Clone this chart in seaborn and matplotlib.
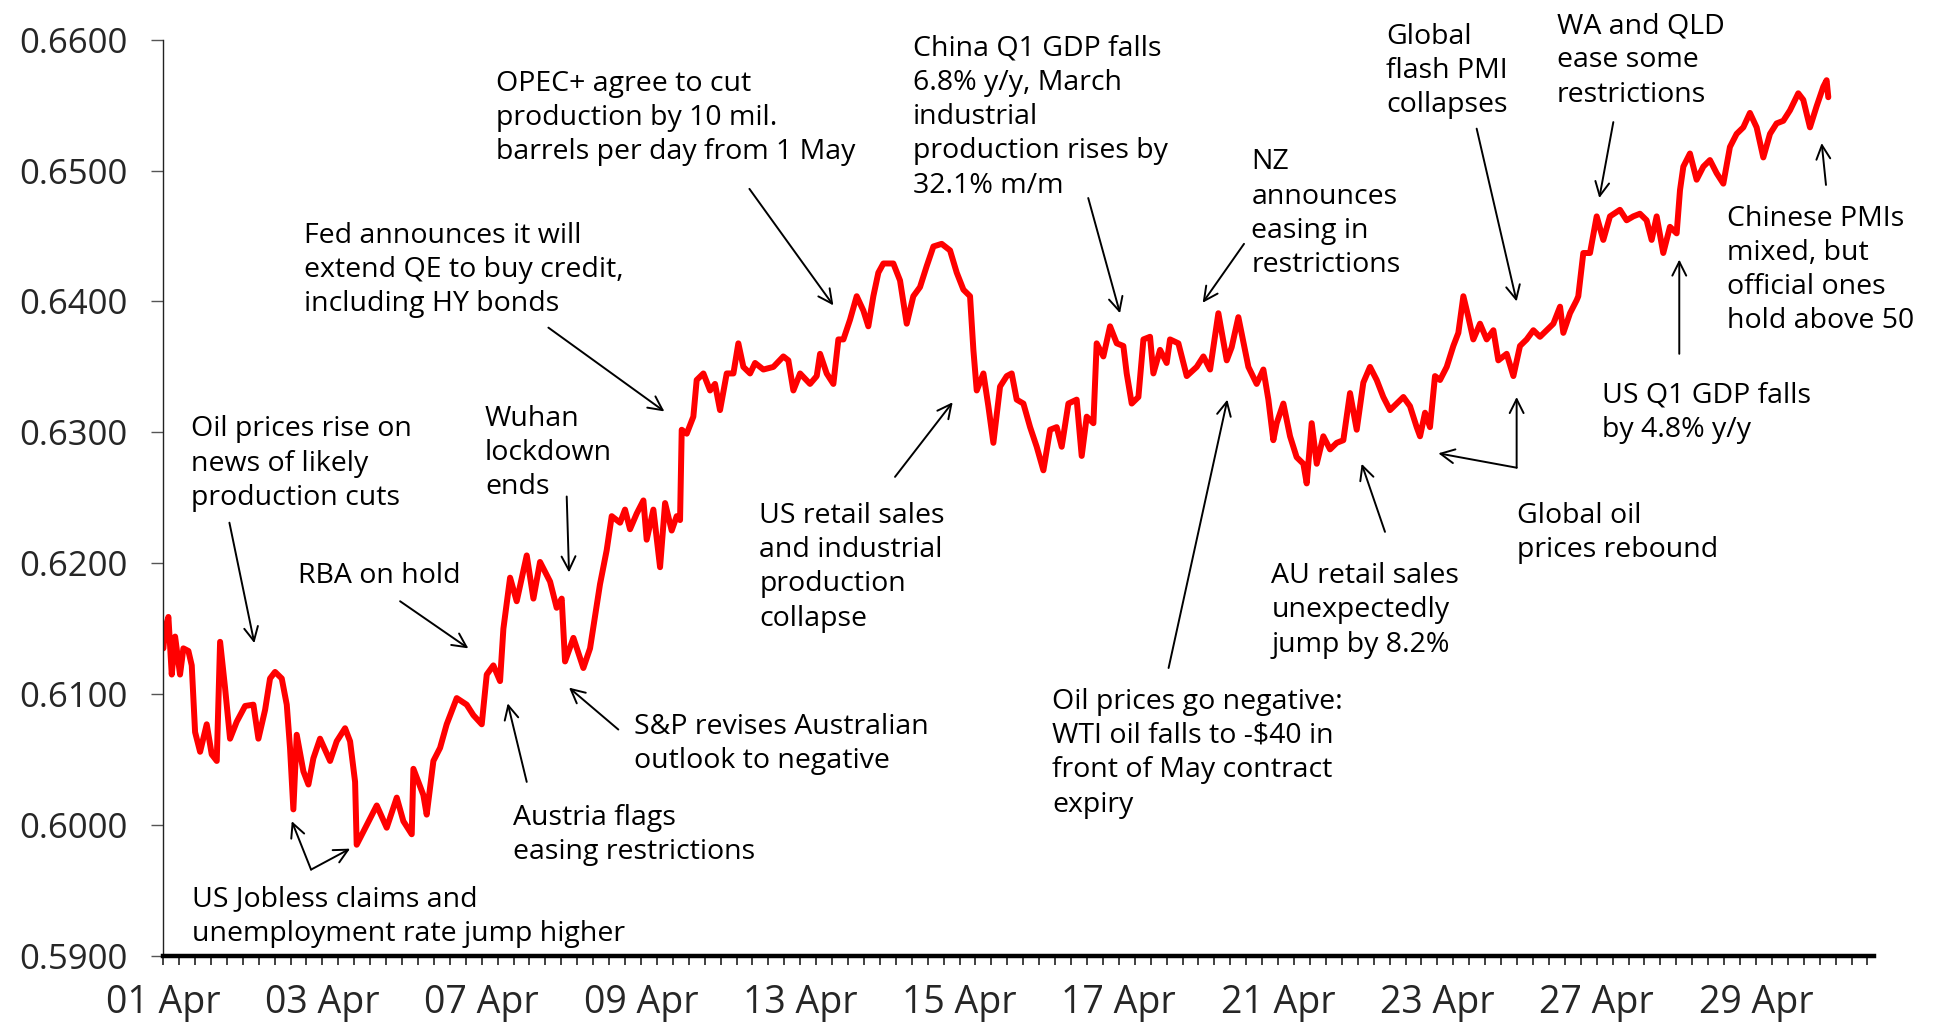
import matplotlib
matplotlib.use('Agg')
import matplotlib.pyplot as plt
import seaborn as sns
from matplotlib.ticker import MultipleLocator, FixedLocator

# AUD/USD, April 2020, x = trading day index (0 = 01 Apr)
day_pos = [
    0.004, 0.025, 0.067, 0.109, 0.151, 0.213, 0.255, 0.318, 0.360, 0.402, 0.465, 0.548, 0.611, 0.674, 0.716,
    0.778, 0.841, 0.925, 1.030, 1.134, 1.197, 1.281, 1.343, 1.406, 1.490, 1.553, 1.594, 1.636, 1.678, 1.762,
    1.825, 1.887, 1.971, 2.097, 2.180, 2.285, 2.348, 2.411, 2.431, 2.557, 2.683, 2.808, 2.934, 3.017, 3.122,
    3.143, 3.268, 3.310, 3.394, 3.478, 3.561, 3.687, 3.812, 3.896, 4.001, 4.064, 4.147, 4.231, 4.273, 4.357,
    4.440, 4.566, 4.650, 4.733, 4.859, 4.942, 5.005, 5.047, 5.152, 5.277, 5.361, 5.486,
    5.570, 5.633, 5.738, 5.800, 5.863, 5.947, 6.031, 6.072, 6.156, 6.240, 6.303, 6.386, 6.449, 6.491, 6.512,
    6.575, 6.658, 6.700, 6.784, 6.868, 6.930, 6.993, 7.077, 7.161, 7.223, 7.286, 7.370, 7.433, 7.537, 7.663,
    7.788, 7.851, 7.914, 7.998, 8.123, 8.207, 8.249, 8.332, 8.416, 8.479, 8.542, 8.625, 8.709, 8.793, 8.855,
    8.918, 8.981, 9.044, 9.169, 9.253, 9.337, 9.420, 9.504, 9.588, 9.672,
    9.776, 9.881, 9.965, 10.049, 10.132, 10.174, 10.216, 10.300, 10.362, 10.425, 10.509, 10.593, 10.655,
    10.718, 10.802, 10.886, 10.969, 11.053, 11.137, 11.220, 11.283, 11.367, 11.471, 11.534, 11.597, 11.681,
    11.722, 11.806, 11.890, 11.974, 12.057, 12.099, 12.162, 12.246, 12.309, 12.392, 12.434, 12.518, 12.601,
    12.643, 12.748, 12.853, 12.978, 13.062, 13.146, 13.250, 13.355, 13.417, 13.501, 13.627, 13.731, 13.815,
    13.878, 13.940,
    13.982, 14.066, 14.150, 14.233, 14.317, 14.359, 14.422, 14.485, 14.568, 14.652, 14.736, 14.819, 14.903,
    14.987, 15.070, 15.154, 15.238, 15.321, 15.405, 15.489, 15.573, 15.656, 15.740, 15.782, 15.845, 15.907,
    15.970, 16.033, 16.117, 16.200, 16.263, 16.326, 16.389, 16.451, 16.535, 16.619, 16.703, 16.765, 16.870,
    16.954, 17.037, 17.121, 17.205, 17.288, 17.372, 17.456, 17.540, 17.581, 17.665, 17.749,
    17.769, 17.832, 17.916, 18.000, 18.083, 18.167, 18.292, 18.376, 18.460, 18.543, 18.627, 18.690, 18.753,
    18.836, 18.920, 19.004, 19.046, 19.088, 19.171, 19.255, 19.339, 19.422, 19.506, 19.590, 19.673, 19.757,
    19.841, 19.924, 20.008, 20.092, 20.176, 20.259, 20.343, 20.427, 20.531, 20.594, 20.678, 20.761, 20.845,
    20.887, 20.908,
]
aud_usd = [
    0.6135, 0.6150, 0.6159, 0.6115, 0.6144, 0.6115, 0.6135, 0.6133, 0.6122, 0.6071, 0.6056, 0.6077, 0.6054, 0.6049, 0.6140,
    0.6105, 0.6066, 0.6079, 0.6091, 0.6092, 0.6066, 0.6088, 0.6112, 0.6117, 0.6112, 0.6092, 0.6059, 0.6012, 0.6069, 0.6041,
    0.6031, 0.6051, 0.6066, 0.6049, 0.6064, 0.6074, 0.6064, 0.6033, 0.5985, 0.6000, 0.6015, 0.5998, 0.6021, 0.6003, 0.5993,
    0.6043, 0.6023, 0.6008, 0.6049, 0.6059, 0.6077, 0.6097, 0.6092, 0.6084, 0.6077, 0.6115, 0.6122, 0.6110, 0.6150, 0.6189,
    0.6171, 0.6206, 0.6173, 0.6201, 0.6186, 0.6166, 0.6173, 0.6125, 0.6143, 0.6120, 0.6135, 0.6184,
    0.6210, 0.6236, 0.6231, 0.6241, 0.6226, 0.6238, 0.6248, 0.6218, 0.6241, 0.6197, 0.6246, 0.6225, 0.6236, 0.6233, 0.6302,
    0.6299, 0.6312, 0.6340, 0.6345, 0.6332, 0.6337, 0.6317, 0.6345, 0.6345, 0.6368, 0.6350, 0.6345, 0.6353, 0.6348, 0.6350,
    0.6358, 0.6355, 0.6332, 0.6345, 0.6337, 0.6343, 0.6360, 0.6345, 0.6337, 0.6371, 0.6371, 0.6386, 0.6404, 0.6393, 0.6381,
    0.6404, 0.6422, 0.6429, 0.6429, 0.6416, 0.6383, 0.6404, 0.6411, 0.6427, 0.6442,
    0.6444, 0.6439, 0.6422, 0.6409, 0.6404, 0.6363, 0.6332, 0.6345, 0.6320, 0.6292, 0.6335, 0.6343, 0.6345,
    0.6325, 0.6322, 0.6304, 0.6289, 0.6271, 0.6302, 0.6304, 0.6289, 0.6322, 0.6325, 0.6282, 0.6312, 0.6307,
    0.6368, 0.6358, 0.6381, 0.6368, 0.6366, 0.6345, 0.6322, 0.6327, 0.6371, 0.6373, 0.6345, 0.6363, 0.6353,
    0.6371, 0.6368, 0.6343, 0.6350, 0.6358, 0.6348, 0.6391, 0.6355, 0.6365, 0.6388, 0.6350, 0.6337, 0.6348,
    0.6325, 0.6294,
    0.6307, 0.6322, 0.6297, 0.6281, 0.6276, 0.6261, 0.6307, 0.6276, 0.6297, 0.6287, 0.6292, 0.6294, 0.6330,
    0.6302, 0.6338, 0.6350, 0.6340, 0.6327, 0.6317, 0.6322, 0.6327, 0.6320, 0.6304, 0.6297, 0.6315, 0.6304,
    0.6343, 0.6340, 0.6350, 0.6366, 0.6376, 0.6404, 0.6388, 0.6371, 0.6383, 0.6371, 0.6378, 0.6355, 0.6360,
    0.6343, 0.6366, 0.6371, 0.6378, 0.6373, 0.6378, 0.6383, 0.6396, 0.6376, 0.6391, 0.6401,
    0.6404, 0.6437, 0.6437, 0.6465, 0.6447, 0.6465, 0.6470, 0.6462, 0.6465, 0.6467, 0.6462, 0.6447, 0.6465,
    0.6437, 0.6457, 0.6452, 0.6485, 0.6503, 0.6513, 0.6493, 0.6503, 0.6508, 0.6498, 0.6490, 0.6518, 0.6528,
    0.6533, 0.6544, 0.6533, 0.6510, 0.6528, 0.6536, 0.6538, 0.6546, 0.6559, 0.6554, 0.6533, 0.6549, 0.6564,
    0.6569, 0.6556,
]

label_days = [0, 2, 4, 6, 8, 10, 12, 14, 16, 18, 20]
label_text = ['01 Apr', '03 Apr', '07 Apr', '09 Apr', '13 Apr', '15 Apr',
              '17 Apr', '21 Apr', '23 Apr', '27 Apr', '29 Apr']
y_ticks = [0.59, 0.60, 0.61, 0.62, 0.63, 0.64, 0.65, 0.66]

# (text, x, y of top of text)
notes = [
    ("Oil prices rise on\nnews of likely\nproduction cuts", 0.354, 0.6313),
    ("RBA on hold", 1.699, 0.6201),
    ("Wuhan\nlockdown\nends", 4.043, 0.6321),
    ("Fed announces it will\nextend QE to buy credit,\nincluding HY bonds", 1.773, 0.6461),
    ("OPEC+ agree to cut\nproduction by 10 mil.\nbarrels per day from 1 May", 4.179, 0.6577),
    ("China Q1 GDP falls\n6.8% y/y, March\nindustrial\nproduction rises by\n32.1% m/m", 9.411, 0.6604),
    ("NZ\nannounces\neasing in\nrestrictions", 13.665, 0.6517),
    ("Global\nflash PMI\ncollapses", 15.357, 0.6613),
    ("WA and QLD\nease some\nrestrictions", 17.5, 0.6621),
    ("Chinese PMIs\nmixed, but\nofficial ones\nhold above 50", 19.640, 0.6474),
    ("US Q1 GDP falls\nby 4.8% y/y", 18.063, 0.6339),
    ("Global oil\nprices rebound", 17.003, 0.6247),
    ("AU retail sales\nunexpectedly\njump by 8.2%", 13.914, 0.6201),
    ("Oil prices go negative:\nWTI oil falls to -$40 in\nfront of May contract\nexpiry", 11.165, 0.6105),
    ("US retail sales\nand industrial\nproduction\ncollapse", 7.487, 0.6247),
    ("S&P revises Australian\noutlook to negative", 5.918, 0.6086),
    ("Austria flags\neasing restrictions", 4.398, 0.6016),
    ("US Jobless claims and\nunemployment rate jump higher", 0.360, 0.5954),
]

# (tail x, tail y, head x, head y)
arrows = [
    (0.833, 0.6231, 1.146, 0.6139),
    (2.976, 0.6171, 3.833, 0.6135),
    (5.068, 0.6251, 5.097, 0.6193),
    (4.838, 0.6380, 6.294, 0.6316),
    (7.362, 0.6486, 8.416, 0.6397),
    (11.616, 0.6479, 12.015, 0.6391),
    (13.572, 0.6444, 13.053, 0.6399),
    (16.493, 0.6532, 16.995, 0.6400),
    (18.209, 0.6537, 18.033, 0.6479),
    (20.879, 0.6489, 20.825, 0.6521),
    (19.037, 0.6360, 19.037, 0.6432),
    (16.995, 0.6273, 16.012, 0.6284),
    (16.995, 0.6273, 16.995, 0.6327),
    (15.342, 0.6224, 15.049, 0.6276),
    (12.625, 0.6120, 13.363, 0.6325),
    (9.190, 0.6266, 9.914, 0.6323),
    (5.716, 0.6073, 5.097, 0.6105),
    (4.566, 0.6033, 4.327, 0.6093),
    (1.858, 0.5966, 1.616, 0.6003),
    (1.858, 0.5966, 2.348, 0.5982),
]

sns.set_style('white')
plt.rcParams['font.family'] = ['Open Sans', 'DejaVu Sans']

fig = plt.figure(figsize=(19.39, 10.24), dpi=100)
ax = fig.add_axes([0.0841, 0.0664, 0.8823, 0.8949])

sns.lineplot(x=day_pos, y=aud_usd, ax=ax, color='#ff0000', linewidth=4.3,
             estimator=None, sort=False)
for line in ax.lines:
    line.set_solid_joinstyle('round')

ax.set_xlim(0, 21.48)
ax.set_ylim(0.59, 0.66)
ax.set_yticks(y_ticks)
ax.set_yticklabels([f'{v:.4f}' for v in y_ticks])
ax.xaxis.set_major_locator(FixedLocator(label_days))
ax.set_xticklabels(label_text)
ax.xaxis.set_minor_locator(MultipleLocator(0.2))

for side in ['top', 'right']:
    ax.spines[side].set_visible(False)
ax.spines['left'].set_linewidth(1.0)
ax.spines['left'].set_color('#222222')
ax.spines['bottom'].set_linewidth(3.2)
ax.spines['bottom'].set_color('black')

ax.tick_params(axis='y', which='both', left=True, direction='out', length=8.6,
               width=1.0, color='#555555', labelsize=25, pad=17)
ax.tick_params(axis='x', which='both', bottom=True, direction='out', length=6.5,
               width=1.3, color='#333333', labelsize=27, pad=14)
ax.set_xlabel('')
ax.set_ylabel('')

for txt, tx, ty in notes:
    ax.text(tx, ty, txt, fontsize=20.5, ha='left', va='top', linespacing=1.3,
            color='black')

for x0, y0, x1, y1 in arrows:
    ax.annotate('', xy=(x1, y1), xytext=(x0, y0),
                arrowprops=dict(arrowstyle='->,head_length=1.0,head_width=0.5',
                                lw=1.4, color='black', shrinkA=0, shrinkB=0))

fig.savefig('out.png', dpi=100)
